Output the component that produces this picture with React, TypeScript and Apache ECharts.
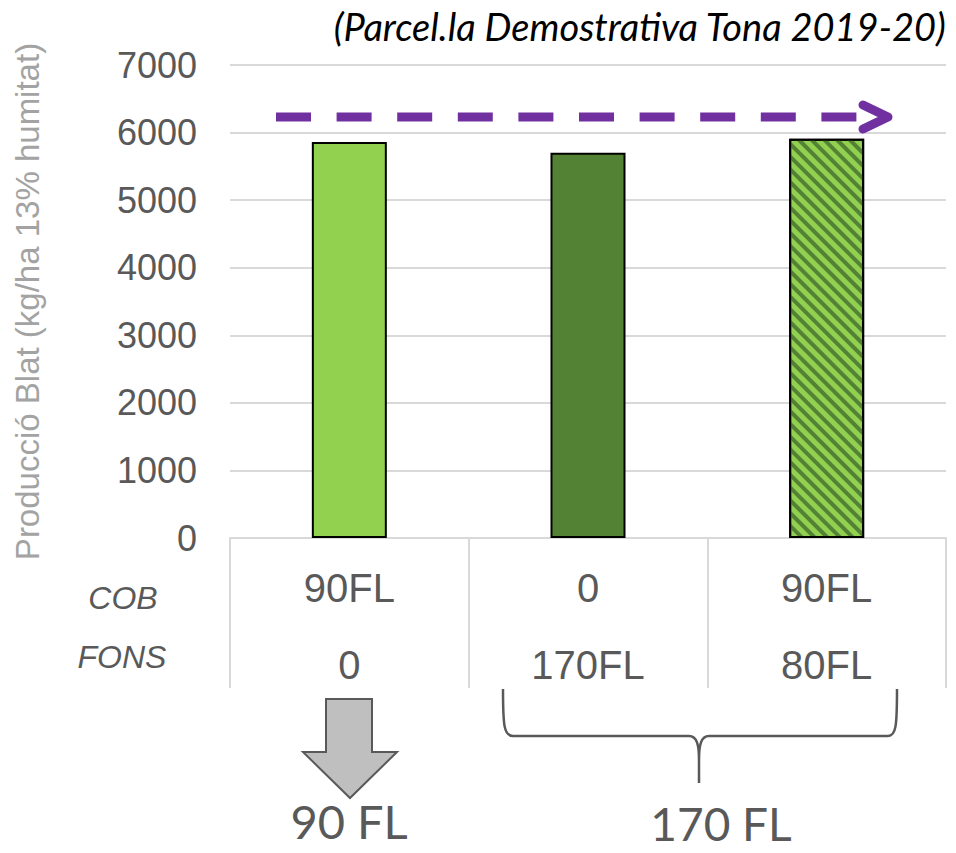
import React, { useEffect, useRef } from "react";
import * as echarts from "echarts";

const CATEGORIES = ["T1", "T2", "T3"];
const COB_LABELS = ["90FL", "0", "90FL"];
const FONS_LABELS = ["0", "170FL", "80FL"];
const YIELDS = [5860, 5700, 5910];
const Y_MIN = 0;
const Y_MAX = 7000;
const Y_INTERVAL = 1000;
const REFERENCE_LEVEL = 6230;
const ROW_LABELS = ["COB", "FONS"];
const GROUP_LABELS = ["90 FL", "170 FL"];
const TITLE = "(Parcel.la Demostrativa Tona 2019-20)";
const Y_NAME = "Producció Blat (kg/ha 13% humitat)";

const LIGHT_GREEN = "#92D050";
const DARK_GREEN = "#548235";
const PURPLE = "#7030A0";
const GREY_TEXT = "#595959";
const GRID_GREY = "#d9d9d9";

const BRACE_D =
  "M503,689 C503,726 504,736 513,736 L689,736 C697,736 699,745 699,760 L699,783 M699,760 C699,745 701,736 709,736 L888,736 C896,736 897,726 897,689";

try {
  echarts.graphic.registerShape("brace", echarts.graphic.extendPath(BRACE_D, {}));
} catch (e) {
  // ignore
}

export default function App() {
  const ref = useRef<HTMLDivElement>(null);
  useEffect(() => {
    document.body.style.margin = "0";
    if (!ref.current) return;
    const chart = echarts.init(ref.current, undefined, { renderer: "svg" });
    const barStyles = [
      { color: LIGHT_GREEN, borderColor: "#000", borderWidth: 2 },
      { color: DARK_GREEN, borderColor: "#000", borderWidth: 2 },
      {
        color: LIGHT_GREEN,
        borderColor: "#000",
        borderWidth: 2,
        decal: {
          symbol: "rect",
          symbolSize: 1,
          color: DARK_GREEN,
          dashArrayX: [1, 0],
          dashArrayY: [3.5, 4.5],
          rotation: Math.PI / 4,
        },
      },
    ];
    chart.setOption({
      animation: false,
      title: {
        text: TITLE,
        right: 4,
        top: 2,
        textStyle: {
          fontFamily: "Lato",
          fontStyle: "italic",
          fontWeight: "normal",
          fontSize: 38,
          color: "#000",
        },
      },
      grid: { left: 230, right: 10, top: 65, bottom: 315, containLabel: false },
      xAxis: {
        type: "category",
        data: CATEGORIES,
        axisLine: { show: true, lineStyle: { color: GRID_GREY, width: 2 } },
        axisTick: { show: true, length: 150, lineStyle: { color: GRID_GREY, width: 2 } },
        axisLabel: {
          formatter: (_v: string, i: number) => `${COB_LABELS[i]}\n${FONS_LABELS[i]}`,
          fontFamily: "Liberation Sans",
          fontSize: 40,
          lineHeight: 77,
          margin: 11,
          color: GREY_TEXT,
        },
      },
      yAxis: {
        type: "value",
        min: Y_MIN,
        max: Y_MAX,
        interval: Y_INTERVAL,
        name: Y_NAME,
        nameLocation: "middle",
        nameGap: 186,
        nameTextStyle: { fontFamily: "Liberation Sans", fontSize: 33, color: "#a3a3a3" },
        axisLine: { show: false },
        axisTick: { show: false },
        splitLine: { lineStyle: { color: GRID_GREY, width: 2 } },
        axisLabel: {
          formatter: (v: number) => String(v),
          fontFamily: "Liberation Sans",
          fontSize: 36,
          color: GREY_TEXT,
          margin: 33,
        },
      },
      series: [
        {
          type: "bar",
          barWidth: 75,
          data: YIELDS.map((v, i) => ({ value: v, itemStyle: barStyles[i] })),
        },
      ],
    });

    const yRef = chart.convertToPixel({ yAxisIndex: 0 }, REFERENCE_LEVEL) as number;
    chart.setOption({
      graphic: [
        {
          type: "line",
          shape: { x1: 276, y1: yRef, x2: 862, y2: yRef },
          style: { stroke: PURPLE, lineWidth: 9, lineDash: [35, 25.6], lineCap: "butt" },
          z: 100,
        },
        {
          type: "polyline",
          shape: { points: [[863, yRef - 12], [888, yRef], [863, yRef + 12]] },
          style: { stroke: PURPLE, lineWidth: 9, fill: "none", lineCap: "round", lineJoin: "round" },
          z: 100,
        },
        {
          type: "text",
          x: 123,
          y: 598,
          style: {
            text: ROW_LABELS[0],
            font: "italic 32px 'Liberation Sans'",
            fill: GREY_TEXT,
            align: "center",
            verticalAlign: "middle",
          },
        },
        {
          type: "text",
          x: 122,
          y: 657,
          style: {
            text: ROW_LABELS[1],
            font: "italic 32px 'Liberation Sans'",
            fill: GREY_TEXT,
            align: "center",
            verticalAlign: "middle",
          },
        },
        {
          type: "polygon",
          shape: {
            points: [
              [326, 699],
              [372, 699],
              [372, 752],
              [397, 752],
              [350, 798],
              [303, 752],
              [326, 752],
            ],
          },
          style: { fill: "#bfbfbf", stroke: GREY_TEXT, lineWidth: 2 },
        },
        {
          type: "brace",
          x: 0,
          y: 0,
          style: { fill: "none", stroke: GREY_TEXT, lineWidth: 2.5 },
        },
        {
          type: "text",
          x: 349,
          y: 821,
          style: {
            text: GROUP_LABELS[0],
            font: "47px Lato",
            fill: GREY_TEXT,
            align: "center",
            verticalAlign: "middle",
          },
        },
        {
          type: "text",
          x: 721,
          y: 823,
          style: {
            text: GROUP_LABELS[1],
            font: "46px Lato",
            fill: GREY_TEXT,
            align: "center",
            verticalAlign: "middle",
          },
        },
      ],
    });
    return () => chart.dispose();
  }, []);
  return <div ref={ref} style={{ width: 956, height: 853 }} />;
}
